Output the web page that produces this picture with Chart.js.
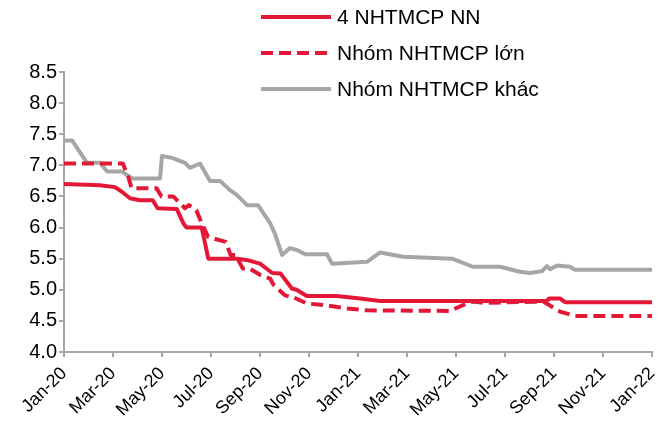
<!DOCTYPE html>
<html>
<head>
<meta charset="utf-8">
<script src="https://cdn.jsdelivr.net/npm/chart.js@4/dist/chart.umd.min.js"></script>
<style>
  html, body { margin: 0; padding: 0; background: #fff; }
  canvas { display: block; }
</style>
</head>
<body>
<canvas id="rateChart" width="668" height="429"></canvas>
<script>
// x = months since Jan-2020
const xLabels = ['Jan-20', 'Mar-20', 'May-20', 'Jul-20', 'Sep-20', 'Nov-20', 'Jan-21',
                 'Mar-21', 'May-21', 'Jul-21', 'Sep-21', 'Nov-21', 'Jan-22'];

const seriesNames = ['4 NHTMCP NN', 'Nhóm NHTMCP lớn', 'Nhóm NHTMCP khác'];

// 4 NHTMCP NN
const nnMonths = [0, 1.47, 2.08, 2.35, 2.69, 3.1, 3.62, 3.82, 4.6, 4.87, 5.0, 5.62, 5.89, 7.05,
                  7.45, 8.0, 8.5, 8.84, 9.3, 9.49, 9.91, 11.13, 12.08, 12.9, 19.7, 19.8, 20.24,
                  20.45, 24];
const nnRates = [6.70, 6.68, 6.65, 6.58, 6.47, 6.44, 6.44, 6.31, 6.30, 6.07, 6.00, 6.00, 5.50, 5.50,
                 5.48, 5.42, 5.27, 5.26, 5.02, 5.00, 4.90, 4.90, 4.86, 4.82, 4.82, 4.86, 4.86,
                 4.80, 4.80];

// Nhóm NHTMCP lớn
const bigMonths = [0, 2.4, 2.62, 2.76, 3.78, 3.98, 4.46, 4.94, 5.1, 5.4, 5.6, 5.88, 6.6, 6.8, 7.0,
                   7.3, 7.57, 8.0, 8.41, 8.55, 9.02, 9.36, 9.91, 10.73, 11.54, 12.35, 15.76, 16.43,
                   16.71, 17.1, 19.57, 19.9, 20.24, 20.86, 24];
const bigRates = [7.03, 7.03, 6.82, 6.63, 6.63, 6.50, 6.50, 6.31, 6.36, 6.28, 6.09, 5.85, 5.77, 5.56,
                  5.56, 5.34, 5.34, 5.24, 5.18, 5.08, 4.91, 4.88, 4.78, 4.75, 4.70, 4.67, 4.66, 4.78,
                  4.81, 4.79, 4.81, 4.73, 4.65, 4.58, 4.58];

// Nhóm NHTMCP khác
const otherMonths = [0, 0.33, 0.94, 1.47, 1.76, 2.37, 2.78, 3.92, 4.0, 4.41, 4.94, 5.14, 5.55, 5.96,
                     6.37, 6.78, 7.06, 7.47, 7.92, 8.41, 8.61, 8.9, 9.22, 9.51, 9.84, 10.73, 10.94,
                     12.37, 12.9, 13.84, 15.84, 16.69, 17.8, 18.61, 19.02, 19.51, 19.71, 19.84,
                     20.12, 20.65, 20.86, 24];
const otherRates = [7.40, 7.40, 7.04, 7.04, 6.90, 6.90, 6.79, 6.79, 7.15, 7.12, 7.04, 6.96, 7.03, 6.75,
                    6.75, 6.60, 6.52, 6.36, 6.36, 6.07, 5.90, 5.56, 5.67, 5.64, 5.57, 5.57, 5.42,
                    5.45, 5.60, 5.53, 5.50, 5.37, 5.37, 5.29, 5.27, 5.30, 5.38, 5.33, 5.39, 5.37,
                    5.32, 5.32];

const RED = '#E31837';
const GREY = '#A6A6A6';
const FONT = "'Liberation Sans', Arial, sans-serif";

function toPoints(xs, ys) {
    return xs.map((x, i) => ({ x: x, y: ys[i] }));
}

// legend stacked one item per row, drawn above the plot like the original
const stackedLegend = {
    id: 'stackedLegend',
    afterDraw(chart) {
        const ctx = chart.ctx;
        ctx.save();
        ctx.font = '21px ' + FONT;
        ctx.textBaseline = 'middle';
        ctx.fillStyle = '#000';
        chart.data.datasets.forEach((ds, i) => {
            const y = 17 + i * 36;
            ctx.strokeStyle = ds.borderColor;
            ctx.lineWidth = ds.borderWidth;
            ctx.setLineDash(ds.borderDash || []);
            ctx.beginPath();
            ctx.moveTo(261, y);
            ctx.lineTo(331, y);
            ctx.stroke();
            ctx.fillText(ds.label, 337, y + 1);
        });
        ctx.restore();
    }
};

new Chart(document.getElementById('rateChart'), {
    type: 'line',
    data: {
        datasets: [
            { label: seriesNames[0], data: toPoints(nnMonths, nnRates), borderColor: RED, borderWidth: 4 },
            { label: seriesNames[1], data: toPoints(bigMonths, bigRates), borderColor: RED, borderWidth: 4, borderDash: [12, 6] },
            { label: seriesNames[2], data: toPoints(otherMonths, otherRates), borderColor: GREY, borderWidth: 4 }
        ]
    },
    options: {
        responsive: false,
        animation: false,
        elements: { point: { radius: 0 }, line: { tension: 0, borderJoinStyle: 'round' } },
        layout: { autoPadding: false, padding: { top: 72, right: 16, left: 0, bottom: 0 } },
        plugins: { legend: { display: false }, tooltip: { enabled: false } },
        scales: {
            x: {
                type: 'linear',
                min: 0,
                max: 24,
                afterFit: (scale) => {
                    scale.height = 77;
                    scale.paddingLeft = 0;
                    scale.paddingRight = 0;
                },
                afterBuildTicks: (scale) => {
                    scale.ticks = xLabels.map((_, i) => ({ value: i * 2 }));
                },
                ticks: {
                    minRotation: 45,
                    maxRotation: 45,
                    padding: 6,
                    color: '#000',
                    font: { family: FONT, size: 18 },
                    callback: (v) => xLabels[v / 2]
                },
                grid: { drawOnChartArea: false, tickLength: 5, color: GREY, lineWidth: 2 },
                border: { color: GREY, width: 2 }
            },
            y: {
                min: 4,
                max: 8.5,
                afterFit: (scale) => { scale.width = 64; },
                ticks: {
                    stepSize: 0.5,
                    padding: 2,
                    color: '#000',
                    font: { family: FONT, size: 20 },
                    callback: (v) => v.toFixed(1)
                },
                grid: { drawOnChartArea: false, tickLength: 5, color: GREY, lineWidth: 2 },
                border: { color: GREY, width: 2 }
            }
        }
    },
    plugins: [stackedLegend]
});
</script>
</body>
</html>
